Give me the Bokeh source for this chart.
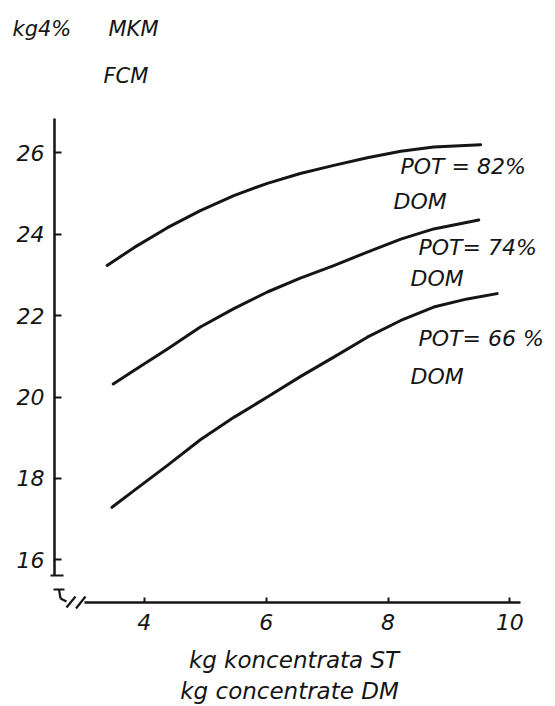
from bokeh.plotting import figure
from bokeh.models import Label, FixedTicker, Range1d, Arrow
from bokeh.embed import file_html
from bokeh.resources import INLINE

# ---- data ----
conc_82 = [3.39, 3.83, 4.38, 4.92, 5.47, 6.02, 6.56, 7.11, 7.66, 8.21, 8.75, 9.52]
fcm_82 = [23.23, 23.67, 24.16, 24.58, 24.95, 25.25, 25.49, 25.69, 25.88, 26.04, 26.14, 26.20]

conc_74 = [3.49, 3.83, 4.38, 4.92, 5.47, 6.02, 6.56, 7.11, 7.66, 8.21, 8.75, 9.49]
fcm_74 = [20.32, 20.65, 21.18, 21.72, 22.17, 22.58, 22.92, 23.23, 23.56, 23.88, 24.13, 24.35]

conc_66 = [3.47, 3.83, 4.38, 4.92, 5.47, 6.02, 6.56, 7.11, 7.66, 8.21, 8.75, 9.30, 9.79]
fcm_66 = [17.29, 17.70, 18.32, 18.95, 19.50, 20.00, 20.50, 20.98, 21.47, 21.88, 22.21, 22.41, 22.54]

series_labels = ["POT = 82%", "POT= 74%", "POT= 66 %"]
dom_label = "DOM"
x_ticks = [4, 6, 8, 10]
y_ticks = [16, 18, 20, 22, 24, 26]
y_title = ["kg4%", "MKM", "FCM"]
x_title = ["kg koncentrata ST", "kg concentrate DM"]

# ---- layout calibration (page pixels -> data) ----
X4, XS = 143.8, 60.93
Y26, YS = 152.3, 40.7


def dx(px):
    return 4 + (px - X4) / XS


def dy(py):
    return 26 - (py - Y26) / YS


FONT = "DejaVu Sans"
INK = "#151515"

p = figure(width=555, height=706, output_backend="svg", toolbar_location=None,
           x_range=Range1d(dx(0), dx(555)), y_range=Range1d(dy(706), dy(0)),
           min_border=0, outline_line_color=None,
           background_fill_color="white", border_fill_color="white")
p.grid.visible = False

for ax in (p.xaxis, p.yaxis):
    ax.axis_line_width = 2.5
    ax.axis_line_color = INK
    ax.major_tick_line_width = 2
    ax.major_tick_line_color = INK
    ax.major_tick_out = 0
    ax.minor_tick_line_color = None
    ax.major_label_text_font = FONT
    ax.major_label_text_font_style = "italic"
    ax.major_label_text_font_size = "22px"
    ax.major_label_text_color = INK

p.xaxis.ticker = FixedTicker(ticks=x_ticks)
p.xaxis.fixed_location = dy(602)
p.xaxis.bounds = (dx(84), dx(519.5))
p.xaxis.major_tick_in = 5
p.xaxis.major_label_standoff = 11

p.yaxis.ticker = FixedTicker(ticks=y_ticks)
p.yaxis.fixed_location = dx(54)
p.yaxis.bounds = (dy(575), dy(118))
p.yaxis.major_tick_in = 7
p.yaxis.major_label_standoff = 10

# curves
for xs, ys in ((conc_82, fcm_82), (conc_74, fcm_74), (conc_66, fcm_66)):
    p.line(xs, ys, line_width=3, line_color=INK, line_cap="round", line_join="round")

# decorations: axis end cap and break marks
deco = [((50, 575), (63, 575)),
        ((53, 589), (64, 589)),
        ((58.5, 589), (60, 598)),
        ((60, 598), (66, 601)),
        ((66, 607), (75, 596)),
        ((75.5, 608), (85, 596))]
for (x0, y0), (x1, y1) in deco:
    p.add_layout(Arrow(end=None, x_start=dx(x0), y_start=dy(y0), x_end=dx(x1), y_end=dy(y1),
                       line_width=2.2, line_color=INK))


def add_text(text, px, py, size="22px", align="left"):
    p.add_layout(Label(x=dx(px), y=dy(py), text=text, text_font=FONT,
                       text_font_style="italic", text_font_size=size,
                       text_color=INK, text_align=align, text_baseline="middle"))


# series labels (positions of text middles)
label_pos = [((400, 165.5), (393, 200.5)),
             ((418, 246.5), (410, 277.5)),
             ((418, 337.5), (410, 375.5))]
for txt, (pp, dp) in zip(series_labels, label_pos):
    add_text(txt, *pp)
    add_text(dom_label, *dp)

# axis titles
add_text(y_title[0], 12, 28.5, size="21px")
add_text(y_title[1], 108, 28.5, size="21px")
add_text(y_title[2], 103, 75, size="21px")
add_text(x_title[0], 293.5, 659.5, size="23px", align="center")
add_text(x_title[1], 289, 690, size="23px", align="center")

open("out.html", "w").write(file_html(p, INLINE))
